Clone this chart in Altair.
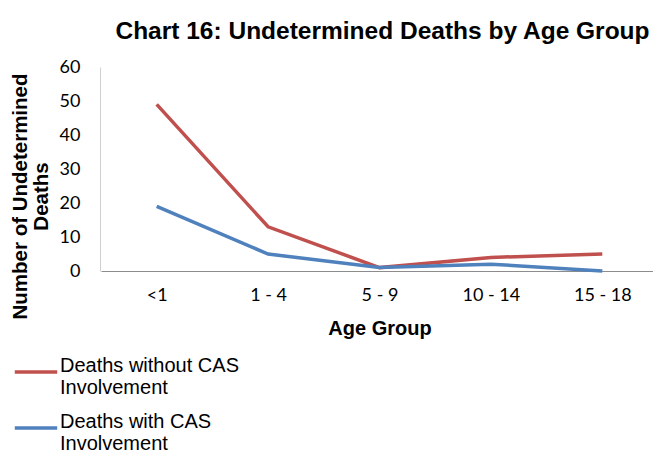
import altair as alt
import pandas as pd

age_groups = ["<1", "1 - 4", "5 - 9", "10 - 14", "15 - 18"]
without_cas = [49, 13, 1, 4, 5]
with_cas = [19, 5, 1, 2, 0]
series_names = ["Deaths without CAS Involvement", "Deaths with CAS Involvement"]
colors = ["#C0504D", "#4F81BD"]

rows = []
for g, v in zip(age_groups, without_cas):
    rows.append({"Age Group": g, "Deaths": v, "Series": series_names[0]})
for g, v in zip(age_groups, with_cas):
    rows.append({"Age Group": g, "Deaths": v, "Series": series_names[1]})
df = pd.DataFrame(rows)

chart = alt.Chart(df).mark_line(strokeWidth=3.5).encode(
    x=alt.X("Age Group:N", sort=age_groups,
            scale=alt.Scale(paddingInner=0, paddingOuter=0, range=[1, 558]),
            axis=alt.Axis(title="Age Group", labelAngle=0, ticks=False, labelPadding=15,
                          labelFont="Lato", labelFontSize=18, labelColor="#000",
                          domainColor="#8C8C8C", titleFont="Liberation Sans", titleFontSize=20,
                          titleFontWeight="bold", titleColor="#000", titlePadding=14)),
    y=alt.Y("Deaths:Q", scale=alt.Scale(domain=[0, 60]),
            axis=alt.Axis(title=["Number of Undetermined", "Deaths"], values=[0, 10, 20, 30, 40, 50, 60],
                          grid=False, ticks=False, labelPadding=20, labelFont="Lato",
                          labelFontSize=18, labelColor="#000", domainColor="#D0D0D0",
                          titleFont="Liberation Sans", titleFontSize=20.5, titleFontWeight="bold",
                          titleColor="#000", titleAngle=-90, titleX=-80, titleY=129,
                          titleAlign="center", titleBaseline="middle", titleLineHeight=21)),
    color=alt.Color("Series:N", sort=series_names,
                    scale=alt.Scale(domain=series_names, range=colors),
                    legend=alt.Legend(title=None, orient="none", legendX=-87, legendY=282,
                                      symbolType="stroke", symbolStrokeWidth=3.5, symbolSize=1800,
                                      labelFont="Liberation Sans", labelFontSize=20, labelColor="#000",
                                      labelExpr="split(replace(datum.label, ' Involvement', '|Involvement'), '|')",
                                      labelBaseline="alphabetic", labelOffset=1, rowPadding=7,
                                      labelLimit=400)),
).properties(
    width=553,
    height=204,
    title=alt.TitleParams("Chart 16: Undetermined Deaths by Age Group", font="Liberation Sans",
                          fontSize=24.5, fontWeight="bold", color="#000", anchor="middle",
                          offset=14, dx=6),
    autosize=alt.AutoSizeParams(type="none"),
    padding={"left": 92, "top": 59, "right": 0, "bottom": 186},
).configure_view(stroke=None)

chart.save("out.html", embed_options={"renderer": "svg", "actions": False})
